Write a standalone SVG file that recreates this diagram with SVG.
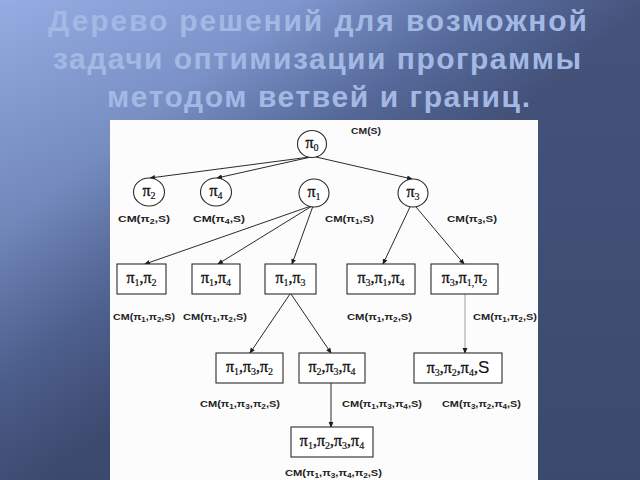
<svg xmlns="http://www.w3.org/2000/svg" width="640" height="480" viewBox="0 0 640 480">
<defs>
<linearGradient id="bg" gradientUnits="userSpaceOnUse" x1="0" y1="0" x2="250" y2="320">
<stop offset="0" stop-color="#95ade2"/>
<stop offset="0.45" stop-color="#7f97ce"/>
<stop offset="0.75" stop-color="#586c9e"/>
<stop offset="1" stop-color="#45537b"/>
</linearGradient>
<linearGradient id="shade" x1="0" y1="0" x2="0" y2="1">
<stop offset="0" stop-color="#2c3858" stop-opacity="0"/>
<stop offset="1" stop-color="#2c3858" stop-opacity="0.35"/>
</linearGradient>
<marker id="arr" markerUnits="userSpaceOnUse" markerWidth="6" markerHeight="6" refX="5" refY="3" orient="auto">
<path d="M0,0.6 L6,3 L0,5.4 z" fill="#1e1e1e"/>
</marker>
</defs>
<style>
.title{font-family:"Liberation Sans",Arial,sans-serif;font-weight:bold;font-size:30px;fill:#a3b9e4;text-anchor:middle}
.edge{stroke:#2a2a2a;stroke-width:1;fill:none;marker-end:url(#arr)}
.faint{stroke:#8a8a8a;stroke-width:0.8}
.node{fill:#fff;stroke:#2a2a2a;stroke-width:1.1}
.nl{font-family:"Liberation Serif","Times New Roman",serif;font-size:16px;fill:#111;stroke:#111;stroke-width:0.35;text-anchor:middle}
.cl{font-family:"Liberation Serif","Times New Roman",serif;font-size:16px;fill:#111;stroke:#111;stroke-width:0.35;text-anchor:middle}
.s{font-size:10px;stroke-width:0.2}
.cm{font-family:"Liberation Sans",Arial,sans-serif;font-size:9.5px;font-weight:bold;fill:#222}
.cs{font-size:7px}
.big{font-family:"Liberation Sans",Arial,sans-serif;font-size:17px;stroke-width:0.1}
</style>

<rect x="0" y="0" width="640" height="480" fill="url(#bg)"/>
<rect x="0" y="0" width="640" height="480" fill="url(#shade)"/>

<g id="title">
<text class="title" x="317.5" y="31" textLength="539" lengthAdjust="spacing">Дерево  решений для возможной</text>
<text class="title" x="317" y="69" textLength="528" lengthAdjust="spacing">задачи оптимизации программы</text>
<text class="title" x="318.5" y="107" textLength="423" lengthAdjust="spacing">методом ветвей и границ.</text>
</g>

<rect id="panel" x="110" y="120" width="428" height="360" fill="#fcfcfd"/>

<g id="connectors">
<line class="edge" x1="310" y1="157" x2="150" y2="178"/>
<line class="edge" x1="311" y1="157" x2="217" y2="178"/>
<line class="edge" x1="316" y1="157" x2="412" y2="179"/>
<line class="edge" x1="311" y1="206" x2="145" y2="264"/>
<line class="edge" x1="312" y1="206" x2="218" y2="264"/>
<line class="edge" x1="313" y1="206" x2="292" y2="264"/>
<line class="edge" x1="410" y1="207" x2="383" y2="264"/>
<line class="edge" x1="416" y1="207" x2="464" y2="264"/>
<line class="edge" x1="290" y1="294" x2="250" y2="353"/>
<line class="edge" x1="291" y1="294" x2="331" y2="353"/>
<line class="edge faint" x1="465" y1="294" x2="465" y2="353"/>
<line class="edge" x1="331" y1="383" x2="331" y2="427"/>
</g>

<g id="n-root">
<ellipse class="node" cx="312" cy="144" rx="14.5" ry="13.5"/>
<text class="cl" x="312" y="148">π<tspan class="s" dy="3">0</tspan></text>
<text class="cm" x="351" y="134" textLength="30" lengthAdjust="spacingAndGlyphs">CM(S)</text>
</g>

<g id="n-p2">
<ellipse class="node" cx="149" cy="192" rx="15.5" ry="14"/>
<text class="cl" x="149" y="196">π<tspan class="s" dy="3">2</tspan></text>
<text class="cm" x="118" y="222" textLength="52" lengthAdjust="spacingAndGlyphs">CM(π<tspan class="cs" dy="2">2</tspan><tspan dy="-2">,S)</tspan></text>
</g>
<g id="n-p4">
<ellipse class="node" cx="216" cy="192" rx="15.5" ry="14"/>
<text class="cl" x="216" y="196">π<tspan class="s" dy="3">4</tspan></text>
<text class="cm" x="193" y="222" textLength="52" lengthAdjust="spacingAndGlyphs">CM(π<tspan class="cs" dy="2">4</tspan><tspan dy="-2">,S)</tspan></text>
</g>
<g id="n-p1">
<ellipse class="node" cx="314" cy="193" rx="15" ry="14"/>
<text class="cl" x="314" y="197">π<tspan class="s" dy="3">1</tspan></text>
<text class="cm" x="325" y="222" textLength="49" lengthAdjust="spacingAndGlyphs">CM(π<tspan class="cs" dy="2">1</tspan><tspan dy="-2">,S)</tspan></text>
</g>
<g id="n-p3">
<ellipse class="node" cx="413" cy="193" rx="15" ry="14"/>
<text class="cl" x="413" y="197">π<tspan class="s" dy="3">3</tspan></text>
<text class="cm" x="447" y="222" textLength="50" lengthAdjust="spacingAndGlyphs">CM(π<tspan class="cs" dy="2">3</tspan><tspan dy="-2">,S)</tspan></text>
</g>

<g id="n-p1p2">
<rect class="node" x="117" y="264" width="49" height="30"/>
<text class="nl" x="141.5" y="283">π<tspan class="s" dy="3">1</tspan><tspan dy="-3">,π</tspan><tspan class="s" dy="3">2</tspan></text>
<text class="cm" x="113" y="320" textLength="62" lengthAdjust="spacingAndGlyphs">CM(π<tspan class="cs" dy="2">1</tspan><tspan dy="-2">,π</tspan><tspan class="cs" dy="2">2</tspan><tspan dy="-2">,S)</tspan></text>
</g>
<g id="n-p1p4">
<rect class="node" x="192" y="264" width="48" height="30"/>
<text class="nl" x="216" y="283">π<tspan class="s" dy="3">1</tspan><tspan dy="-3">,π</tspan><tspan class="s" dy="3">4</tspan></text>
<text class="cm" x="183" y="320" textLength="64" lengthAdjust="spacingAndGlyphs">CM(π<tspan class="cs" dy="2">1</tspan><tspan dy="-2">,π</tspan><tspan class="cs" dy="2">2</tspan><tspan dy="-2">,S)</tspan></text>
</g>
<g id="n-p1p3">
<rect class="node" x="265" y="264" width="51" height="30"/>
<text class="nl" x="290.5" y="283">π<tspan class="s" dy="3">1</tspan><tspan dy="-3">,π</tspan><tspan class="s" dy="3">3</tspan></text>
</g>
<g id="n-p3p1p4">
<rect class="node" x="347" y="264" width="68" height="30"/>
<text class="nl" x="381" y="283">π<tspan class="s" dy="3">3</tspan><tspan dy="-3">,π</tspan><tspan class="s" dy="3">1</tspan><tspan dy="-3">,π</tspan><tspan class="s" dy="3">4</tspan></text>
<text class="cm" x="347" y="320" textLength="65" lengthAdjust="spacingAndGlyphs">CM(π<tspan class="cs" dy="2">1</tspan><tspan dy="-2">,π</tspan><tspan class="cs" dy="2">2</tspan><tspan dy="-2">,S)</tspan></text>
</g>
<g id="n-p3p1p2">
<rect class="node" x="431" y="264" width="67" height="30"/>
<text class="nl" x="464.5" y="283">π<tspan class="s" dy="3">3</tspan><tspan dy="-3">,π</tspan><tspan class="s" dy="3">1,</tspan><tspan dy="-3">π</tspan><tspan class="s" dy="3">2</tspan></text>
<text class="cm" x="473" y="320" textLength="64" lengthAdjust="spacingAndGlyphs">CM(π<tspan class="cs" dy="2">1</tspan><tspan dy="-2">,π</tspan><tspan class="cs" dy="2">2</tspan><tspan dy="-2">,S)</tspan></text>
</g>

<g id="n-p1p3p2">
<rect class="node" x="216" y="353" width="67" height="30"/>
<text class="nl" x="249.5" y="372">π<tspan class="s" dy="3">1</tspan><tspan dy="-3">,π</tspan><tspan class="s" dy="3">3</tspan><tspan dy="-3">,π</tspan><tspan class="s" dy="3">2</tspan></text>
<text class="cm" x="200" y="407" textLength="80" lengthAdjust="spacingAndGlyphs">CM(π<tspan class="cs" dy="2">1</tspan><tspan dy="-2">,π</tspan><tspan class="cs" dy="2">3</tspan><tspan dy="-2">,π</tspan><tspan class="cs" dy="2">2</tspan><tspan dy="-2">,S)</tspan></text>
</g>
<g id="n-p2p3p4">
<rect class="node" x="299" y="353" width="66" height="30"/>
<text class="nl" x="332" y="372">π<tspan class="s" dy="3">2</tspan><tspan dy="-3">,π</tspan><tspan class="s" dy="3">3</tspan><tspan dy="-3">,π</tspan><tspan class="s" dy="3">4</tspan></text>
<text class="cm" x="342" y="407" textLength="80" lengthAdjust="spacingAndGlyphs">CM(π<tspan class="cs" dy="2">1</tspan><tspan dy="-2">,π</tspan><tspan class="cs" dy="2">3</tspan><tspan dy="-2">,π</tspan><tspan class="cs" dy="2">4</tspan><tspan dy="-2">,S)</tspan></text>
</g>
<g id="n-p3p2p4S">
<rect class="node" x="414" y="353" width="88" height="30"/>
<text class="nl" x="458" y="373">π<tspan class="s" dy="3">3</tspan><tspan dy="-3">,π</tspan><tspan class="s" dy="3">2</tspan><tspan dy="-3">,π</tspan><tspan class="s" dy="3">4</tspan><tspan dy="-3">,</tspan><tspan class="big">S</tspan></text>
<text class="cm" x="442" y="407" textLength="79" lengthAdjust="spacingAndGlyphs">CM(π<tspan class="cs" dy="2">3</tspan><tspan dy="-2">,π</tspan><tspan class="cs" dy="2">2</tspan><tspan dy="-2">,π</tspan><tspan class="cs" dy="2">4</tspan><tspan dy="-2">,S)</tspan></text>
</g>

<g id="n-p1p2p3p4">
<rect class="node" x="291" y="427" width="82" height="30"/>
<text class="nl" x="332" y="446">π<tspan class="s" dy="3">1</tspan><tspan dy="-3">,π</tspan><tspan class="s" dy="3">2</tspan><tspan dy="-3">,π</tspan><tspan class="s" dy="3">3</tspan><tspan dy="-3">,π</tspan><tspan class="s" dy="3">4</tspan></text>
<text class="cm" x="285" y="476" textLength="97" lengthAdjust="spacingAndGlyphs">CM(π<tspan class="cs" dy="2">1</tspan><tspan dy="-2">,π</tspan><tspan class="cs" dy="2">3</tspan><tspan dy="-2">,π</tspan><tspan class="cs" dy="2">4</tspan><tspan dy="-2">,π</tspan><tspan class="cs" dy="2">2</tspan><tspan dy="-2">,S)</tspan></text>
</g>
</svg>
